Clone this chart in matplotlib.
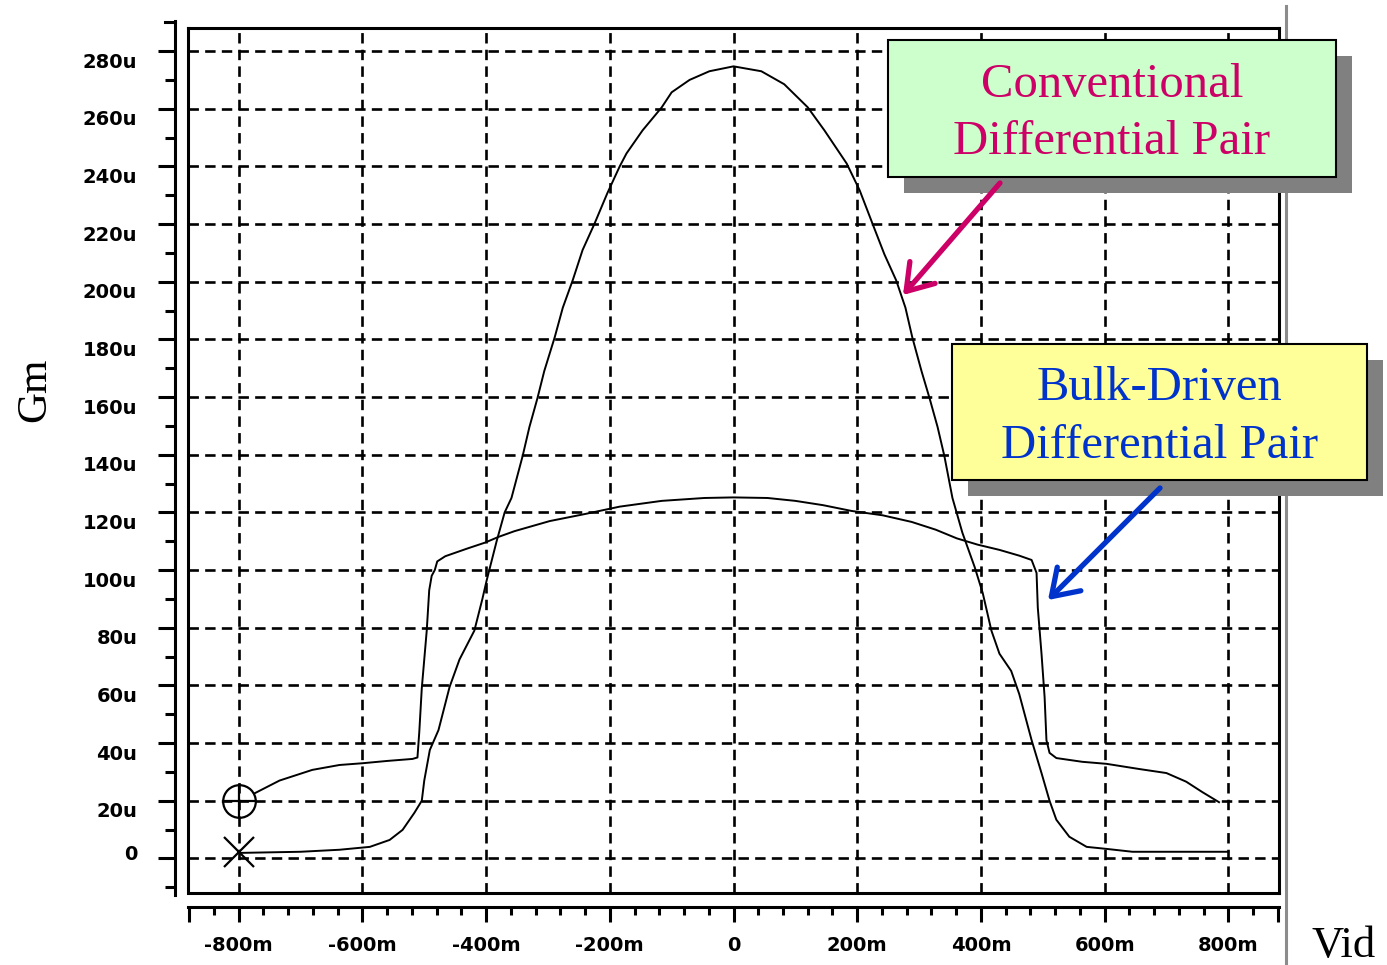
import matplotlib
matplotlib.use("Agg")
import matplotlib.pyplot as plt
import matplotlib.transforms as mtransforms
from matplotlib.lines import Line2D
from matplotlib.patches import Rectangle, FancyArrowPatch
from matplotlib.ticker import MultipleLocator

W, H = 1387, 965          # output size in px (dpi 100)
SERIF = "Liberation Serif"
TICKFONT = "DejaVu Sans"
MAGENTA = "#cc0066"
BLUE = "#0033cc"

plt.rcParams["lines.scale_dashes"] = False

# ---- data: Vid in mV, Gm in uA/V ----
conv_vid = [-800, -700, -637, -588, -556, -535, -516, -504, -500, -491, -477, -459, -443,
            -419, -406, -399, -383, -370, -359, -341, -330, -317, -306, -289, -276, -260,
            -244, -225, -204, -184, -173, -147, -116, -100, -71, -39, 0, 45, 82, 120, 147,
            183, 204, 225, 244, 263, 278, 289, 304, 317, 330, 341, 354, 370, 390, 403, 417,
            430, 449, 462, 482, 498, 511, 522, 543, 571, 603, 645, 800]
conv_gm = [1.9, 2.3, 3.0, 4.0, 6.4, 9.9, 15.8, 20.0, 27.0, 37.6, 44.5, 59.5, 69.0,
           79.0, 90.0, 96.5, 110.0, 120.0, 125.0, 139.5, 149.6, 159.6, 169.0, 180.8, 191.0, 200.5,
           211.0, 220.0, 230.7, 240.0, 244.5, 252.5, 260.5, 265.7, 270.0, 273.0, 274.7, 273.0, 268.5, 260.5, 252.5,
           241.0, 231.7, 220.0, 209.5, 200.5, 191.0, 180.8, 169.0, 159.6, 149.6, 139.5, 125.0, 113.0, 101.0, 92.0, 79.0,
           71.0, 65.0, 57.0, 41.0, 29.6, 20.0, 13.4, 7.5, 4.0, 3.3, 2.3, 2.3]

bulk_vid = [-775, -734, -681, -637, -600, -560, -519, -511, -508, -504, -496, -492, -488,
            -483, -479, -466, -450, -430, -402, -380, -354, -297, -241, -184, -116, -47, 0,
            55, 100, 145, 191, 241, 288, 327, 361, 395, 430, 462, 482, 490, 492, 498, 503,
            506, 511, 522, 564, 603, 656, 700, 732, 758, 785]
bulk_gm = [22.5, 27.0, 30.7, 32.4, 33.0, 33.8, 34.5, 35.0, 44.0, 59.0, 79.0, 93.0, 98.0,
           100.0, 103.0, 104.8, 106.0, 107.5, 109.5, 111.5, 113.5, 117.0, 119.4, 122.0, 124.0, 125.0, 125.2,
           125.0, 124.0, 122.5, 120.5, 119.0, 116.7, 114.0, 111.0, 108.8, 107.0, 105.0, 103.5, 99.0, 87.0, 71.0, 56.0,
           41.0, 36.6, 34.8, 33.5, 32.8, 31.0, 29.6, 26.6, 23.0, 19.5]

x_ticks = [-800, -600, -400, -200, 0, 200, 400, 600, 800]
x_labels = ["-800m", "-600m", "-400m", "-200m", "0", "200m", "400m", "600m", "800m"]
y_ticks = list(range(0, 281, 20))
y_labels = ["0"] + [f"{v}u" for v in y_ticks[1:]]


def fx(px):
    return px / W


def fy(py):
    return 1 - py / H


fig = plt.figure(figsize=(W / 100, H / 100), dpi=100)
ax = fig.add_axes([fx(188), fy(893), (1279 - 188) / W, (893 - 28) / H])
ax.set_xlim(-882, 882)
ax.set_ylim(-12, 288)

# dashed grid
dash = (0, (7.5, 4.5))
for v in x_ticks:
    ax.axvline(v, color="k", lw=1.9, ls=dash, zorder=1)
for v in y_ticks:
    ax.axhline(v, color="k", lw=1.9, ls=dash, zorder=1)

# curves + start markers
ax.plot(conv_vid, conv_gm, color="k", lw=1.4, zorder=3)
ax.plot(bulk_vid, bulk_gm, color="k", lw=1.4, zorder=3)
ax.plot(-800, 20, "o", ms=23.5, mfc="none", mec="k", mew=1.6, zorder=4)
ax.plot(-800, 20, "+", ms=23.5, mew=1.6, color="k", zorder=4)
ax.plot(-800, 2.3, "x", ms=21, mew=1.6, color="k", zorder=4)

# frame: top/right spines, left/bottom detached axes
for s in ("top", "right"):
    ax.spines[s].set_linewidth(2.2)
ax.plot([0, 0, 1], [1, 0, 0], transform=ax.transAxes, color="k", lw=2.2,
        clip_on=False, zorder=5, solid_joinstyle="miter")
ax.spines["left"].set_position(("outward", 9.4))
ax.spines["bottom"].set_position(("outward", 10))
ax.spines["left"].set_bounds(-12.6, 290.6)
ax.spines["left"].set_linewidth(2.2)
ax.spines["bottom"].set_linewidth(2.2)

ax.set_xticks([-880] + x_ticks + [880], [""] + x_labels + [""])
ax.xaxis.set_minor_locator(MultipleLocator(40))
ax.set_yticks(y_ticks, y_labels)
ax.yaxis.set_minor_locator(MultipleLocator(10))
ax.tick_params(which="both", direction="out", width=2.2, color="k")
ax.tick_params(axis="y", which="major", length=12.2, pad=15)
ax.tick_params(axis="y", which="minor", length=7.2)
ax.tick_params(axis="x", which="major", length=10.8, pad=10)
ax.tick_params(axis="x", which="minor", length=5.8)
# minor tick above the frame (290u)
sx = -9.4 / 72 * 100 / 1091
ax.plot([sx - 10 / 1091, sx], [290, 290], transform=ax.get_yaxis_transform(),
        color="k", lw=2.2, clip_on=False)

for lab in ax.get_xticklabels() + ax.get_yticklabels():
    lab.set_fontfamily(TICKFONT)
    lab.set_fontweight("bold")
    lab.set_fontsize(14)
for lab in ax.get_yticklabels():
    dy = 6 if lab.get_text() == "0" else -9
    lab.set_transform(lab.get_transform()
                      + mtransforms.ScaledTranslation(0, dy / 100, fig.dpi_scale_trans))

# axis names
fig.text(fx(35), fy(390), "Gm", rotation=90, ha="center", va="center",
         fontsize=31, family=SERIF)
fig.text(fx(1344), fy(957), "Vid", ha="center", va="baseline",
         fontsize=32, family=SERIF)

# grey separator line at right
fig.add_artist(Line2D([fx(1286)] * 2, [fy(6), fy(965)], color="#8c8c8c", lw=2.2))


def callout(x0, y0, x1, y1, fc, lines, color, baselines):
    w, h = (x1 - x0) / W, (y1 - y0) / H
    fig.add_artist(Rectangle((fx(x0 + 16), fy(y1 + 16)), w, h, transform=fig.transFigure,
                             fc="#808080", ec="none", zorder=6))
    fig.add_artist(Rectangle((fx(x0), fy(y1)), w, h, transform=fig.transFigure,
                             fc=fc, ec="k", lw=1.5, zorder=7))
    for txt, b in zip(lines, baselines):
        fig.text(fx((x0 + x1) / 2), fy(b), txt, ha="center", va="baseline",
                 fontsize=35, family=SERIF, color=color, zorder=8)


def arrow(p0, p1, color):
    fig.add_artist(FancyArrowPatch((fx(p0[0]), fy(p0[1])), (fx(p1[0]), fy(p1[1])),
                                   transform=fig.transFigure, color=color, lw=3.8,
                                   arrowstyle="->,head_length=0.6,head_width=0.4",
                                   mutation_scale=30, shrinkA=0, shrinkB=0, zorder=8))


callout(888, 40, 1336, 177, "#ccffcc", ["Conventional", "Differential Pair"], MAGENTA, [97, 154])
callout(952, 344, 1367, 480, "#ffff99", ["Bulk-Driven", "Differential Pair"], BLUE, [400, 458])
arrow((1000, 183), (903, 295), MAGENTA)
arrow((1160, 488), (1048, 600), BLUE)

fig.savefig("out.png", dpi=100, facecolor="white")
